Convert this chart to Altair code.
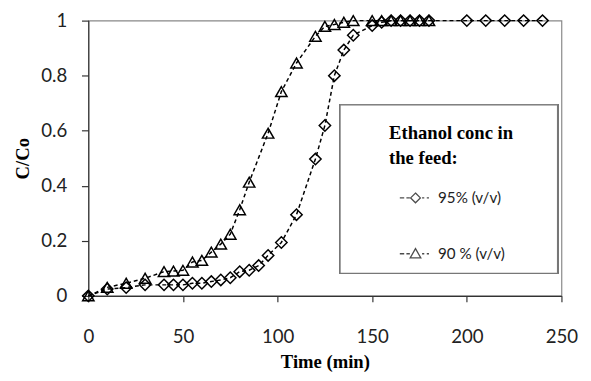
import altair as alt
import pandas as pd

# ---- data ----
t95 = [0, 10, 20, 30, 40, 45, 50, 55, 60, 65, 70, 75, 80, 85, 90, 95, 102, 110, 120, 125,
       130, 135, 140, 150, 155, 160, 165, 170, 175, 180, 200, 210, 220, 230, 240]
c95 = [0.0, 0.025, 0.03, 0.04, 0.04, 0.04, 0.04, 0.046, 0.046, 0.052, 0.058, 0.066, 0.088,
       0.093, 0.11, 0.147, 0.194, 0.295, 0.497, 0.619, 0.80, 0.893, 0.947, 0.982, 0.994,
       1.0, 1.0, 1.0, 1.0, 1.0, 1.0, 1.0, 1.0, 1.0, 1.0]
t90 = [0, 10, 20, 30, 40, 45, 50, 55, 60, 65, 70, 75, 80, 85, 95, 102, 110, 120, 125, 130,
       135, 140, 150, 155, 160, 165, 170, 175, 180]
c90 = [0.0, 0.031, 0.046, 0.064, 0.088, 0.09, 0.093, 0.123, 0.129, 0.159, 0.188, 0.224,
       0.313, 0.413, 0.591, 0.742, 0.846, 0.943, 0.979, 0.986, 0.994, 1.0, 1.0, 1.0, 1.0,
       1.0, 1.0, 1.0, 1.0]
series_names = ["95% (v/v)", "90 % (v/v)"]
x_ticks = [0, 50, 100, 150, 200, 250]
y_ticks = [0, 0.2, 0.4, 0.6, 0.8, 1]

df = pd.concat([
    pd.DataFrame({"time": t95, "c": c95, "series": series_names[0]}),
    pd.DataFrame({"time": t90, "c": c90, "series": series_names[1]}),
], ignore_index=True)

TITLE_FONT = "Liberation Serif"
TICK_FONT = "Lato"

x_enc = alt.X("time:Q", scale=alt.Scale(domain=[0, 250], nice=False),
              axis=alt.Axis(values=x_ticks, title="Time (min)", grid=False, labelFlush=False,
                            tickSize=6, labelPadding=27, titlePadding=6))
y_enc = alt.Y("c:Q", scale=alt.Scale(domain=[0, 1], nice=False),
              axis=alt.Axis(values=y_ticks, format="~g", title="C/Co", grid=False,
                            tickSize=7, labelPadding=15, titlePadding=9))

base = alt.Chart(df)

lines = base.mark_line(color="black", strokeWidth=1.5, strokeDash=[4, 3]).encode(
    x=x_enc, y=y_enc, detail="series:N", order="time:Q")

points = base.mark_point(filled=False, color="black", strokeWidth=1.5, size=135, opacity=1).encode(
    x=x_enc, y=y_enc,
    shape=alt.Shape("series:N", scale=alt.Scale(domain=series_names, range=["diamond", "triangle-up"]),
                    legend=None))

diamond_path = "M-1,0H-0.72M-0.58,0H-0.36M0,-0.31L0.31,0L0,0.31L-0.31,0ZM0.42,0H0.56M0.72,0H0.86"
triangle_path = "M-1,0H-0.72M-0.58,0H-0.36M0,-0.33L0.34,0.27L-0.34,0.27ZM0.42,0H0.56M0.72,0H0.86"

legend_layer = base.transform_filter("false").mark_point(filled=False, color="black").encode(
    x=x_enc, y=y_enc,
    shape=alt.Shape("series:N",
                    scale=alt.Scale(domain=series_names, range=[diamond_path, triangle_path]),
                    legend=alt.Legend(
                        orient="none", legendX=307, legendY=106,
                        title=["Ethanol conc in", "the feed:"],
                        titleFont=TITLE_FONT, titleFontSize=19, titleFontWeight="bold",
                        titleColor="black", titleLineHeight=25, titlePadding=14,
                        labelFont=TICK_FONT, labelFontSize=15.5, labelColor="#222",
                        symbolSize=1024, symbolOffset=10, labelOffset=6,
                        symbolStrokeColor="black", symbolStrokeWidth=1.3,
                        symbolFillColor="transparent", rowPadding=31, padding=0)))

legend_box = alt.Chart(df).mark_rect(fill="white", stroke="#777", strokeWidth=1.2).encode(
    x=alt.value(257), x2=alt.value(479), y=alt.value(86), y2=alt.value(258))

chart = alt.layer(legend_box, lines, points, legend_layer).resolve_scale(
    shape="independent"
).properties(
    width=483, height=281, padding={"left": 5, "top": 0, "right": 5, "bottom": 5}
).configure_view(
    stroke="#888", strokeWidth=1.2
).configure_axis(
    domainColor="#333", domainWidth=1.2, tickColor="#333", tickWidth=1.2,
    labelFont=TICK_FONT, labelFontSize=19, labelColor="#222",
    titleFont=TITLE_FONT, titleFontSize=19, titleFontWeight="bold", titleColor="black"
)

chart.save("out.html", embed_options={"renderer": "svg", "actions": False})
